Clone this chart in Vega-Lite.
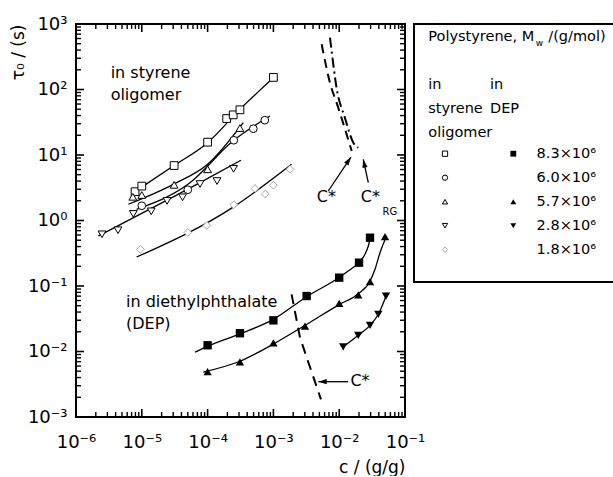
{
  "$schema": "https://vega.github.io/schema/vega-lite/v6.json",
  "padding": {"left": 8, "top": 14, "right": 0, "bottom": 0},
  "spacing": 9,
  "bounds": "flush",
  "config": {
    "font": "DejaVu Sans",
    "view": {"stroke": "black", "strokeWidth": 2},
    "axis": {"domain": false, "grid": false, "labelColor": "black", "titleColor": "black", "titleFontWeight": "normal", "labelFontSize": 18, "titleFontSize": 17}
  },
  "datasets": {
    "xticks": [
      {"c": 1e-5, "kind": "major"}, {"c": 1e-4, "kind": "major"}, {"c": 1e-3, "kind": "major"}, {"c": 1e-2, "kind": "major"},
      {"c": 2e-6, "kind": "minor"}, {"c": 3e-6, "kind": "minor"}, {"c": 4e-6, "kind": "minor"}, {"c": 5e-6, "kind": "minor"}, {"c": 6e-6, "kind": "minor"}, {"c": 7e-6, "kind": "minor"}, {"c": 8e-6, "kind": "minor"}, {"c": 9e-6, "kind": "minor"},
      {"c": 2e-5, "kind": "minor"}, {"c": 3e-5, "kind": "minor"}, {"c": 4e-5, "kind": "minor"}, {"c": 5e-5, "kind": "minor"}, {"c": 6e-5, "kind": "minor"}, {"c": 7e-5, "kind": "minor"}, {"c": 8e-5, "kind": "minor"}, {"c": 9e-5, "kind": "minor"},
      {"c": 2e-4, "kind": "minor"}, {"c": 3e-4, "kind": "minor"}, {"c": 4e-4, "kind": "minor"}, {"c": 5e-4, "kind": "minor"}, {"c": 6e-4, "kind": "minor"}, {"c": 7e-4, "kind": "minor"}, {"c": 8e-4, "kind": "minor"}, {"c": 9e-4, "kind": "minor"},
      {"c": 2e-3, "kind": "minor"}, {"c": 3e-3, "kind": "minor"}, {"c": 4e-3, "kind": "minor"}, {"c": 5e-3, "kind": "minor"}, {"c": 6e-3, "kind": "minor"}, {"c": 7e-3, "kind": "minor"}, {"c": 8e-3, "kind": "minor"}, {"c": 9e-3, "kind": "minor"},
      {"c": 2e-2, "kind": "minor"}, {"c": 3e-2, "kind": "minor"}, {"c": 4e-2, "kind": "minor"}, {"c": 5e-2, "kind": "minor"}, {"c": 6e-2, "kind": "minor"}, {"c": 7e-2, "kind": "minor"}, {"c": 8e-2, "kind": "minor"}, {"c": 9e-2, "kind": "minor"}
    ],
    "yticks": [
      {"tau": 1e-2, "kind": "major"}, {"tau": 1e-1, "kind": "major"}, {"tau": 1, "kind": "major"}, {"tau": 10, "kind": "major"}, {"tau": 100, "kind": "major"},
      {"tau": 2e-3, "kind": "minor"}, {"tau": 3e-3, "kind": "minor"}, {"tau": 4e-3, "kind": "minor"}, {"tau": 5e-3, "kind": "minor"}, {"tau": 6e-3, "kind": "minor"}, {"tau": 7e-3, "kind": "minor"}, {"tau": 8e-3, "kind": "minor"}, {"tau": 9e-3, "kind": "minor"},
      {"tau": 2e-2, "kind": "minor"}, {"tau": 3e-2, "kind": "minor"}, {"tau": 4e-2, "kind": "minor"}, {"tau": 5e-2, "kind": "minor"}, {"tau": 6e-2, "kind": "minor"}, {"tau": 7e-2, "kind": "minor"}, {"tau": 8e-2, "kind": "minor"}, {"tau": 9e-2, "kind": "minor"},
      {"tau": 0.2, "kind": "minor"}, {"tau": 0.3, "kind": "minor"}, {"tau": 0.4, "kind": "minor"}, {"tau": 0.5, "kind": "minor"}, {"tau": 0.6, "kind": "minor"}, {"tau": 0.7, "kind": "minor"}, {"tau": 0.8, "kind": "minor"}, {"tau": 0.9, "kind": "minor"},
      {"tau": 2, "kind": "minor"}, {"tau": 3, "kind": "minor"}, {"tau": 4, "kind": "minor"}, {"tau": 5, "kind": "minor"}, {"tau": 6, "kind": "minor"}, {"tau": 7, "kind": "minor"}, {"tau": 8, "kind": "minor"}, {"tau": 9, "kind": "minor"},
      {"tau": 20, "kind": "minor"}, {"tau": 30, "kind": "minor"}, {"tau": 40, "kind": "minor"}, {"tau": 50, "kind": "minor"}, {"tau": 60, "kind": "minor"}, {"tau": 70, "kind": "minor"}, {"tau": 80, "kind": "minor"}, {"tau": 90, "kind": "minor"},
      {"tau": 200, "kind": "minor"}, {"tau": 300, "kind": "minor"}, {"tau": 400, "kind": "minor"}, {"tau": 500, "kind": "minor"}, {"tau": 600, "kind": "minor"}, {"tau": 700, "kind": "minor"}, {"tau": 800, "kind": "minor"}, {"tau": 900, "kind": "minor"}
    ],
    "pts": [
      {"solvent": "oligomer", "series": "8.3", "c": 7.9e-6, "tau": 2.75},
      {"solvent": "oligomer", "series": "8.3", "c": 1.0e-5, "tau": 3.35},
      {"solvent": "oligomer", "series": "8.3", "c": 3.1e-5, "tau": 6.9},
      {"solvent": "oligomer", "series": "8.3", "c": 1.0e-4, "tau": 15.7},
      {"solvent": "oligomer", "series": "8.3", "c": 1.95e-4, "tau": 36},
      {"solvent": "oligomer", "series": "8.3", "c": 2.45e-4, "tau": 41},
      {"solvent": "oligomer", "series": "8.3", "c": 3.1e-4, "tau": 49},
      {"solvent": "oligomer", "series": "8.3", "c": 1.0e-3, "tau": 153},
      {"solvent": "oligomer", "series": "6.0", "c": 1.0e-5, "tau": 1.68},
      {"solvent": "oligomer", "series": "6.0", "c": 5.0e-5, "tau": 2.95},
      {"solvent": "oligomer", "series": "6.0", "c": 2.5e-4, "tau": 16.8},
      {"solvent": "oligomer", "series": "6.0", "c": 4.95e-4, "tau": 25.2},
      {"solvent": "oligomer", "series": "6.0", "c": 7.4e-4, "tau": 34},
      {"solvent": "oligomer", "series": "5.7", "c": 7.3e-6, "tau": 2.3},
      {"solvent": "oligomer", "series": "5.7", "c": 1.0e-5, "tau": 2.45},
      {"solvent": "oligomer", "series": "5.7", "c": 3.1e-5, "tau": 3.5},
      {"solvent": "oligomer", "series": "5.7", "c": 1.0e-4, "tau": 6.05},
      {"solvent": "oligomer", "series": "5.7", "c": 3.1e-4, "tau": 25.8},
      {"solvent": "oligomer", "series": "2.8", "c": 2.48e-6, "tau": 0.615},
      {"solvent": "oligomer", "series": "2.8", "c": 4.35e-6, "tau": 0.71},
      {"solvent": "oligomer", "series": "2.8", "c": 7.43e-6, "tau": 1.26},
      {"solvent": "oligomer", "series": "2.8", "c": 1.39e-5, "tau": 1.38},
      {"solvent": "oligomer", "series": "2.8", "c": 2.42e-5, "tau": 1.99},
      {"solvent": "oligomer", "series": "2.8", "c": 4.16e-5, "tau": 2.26},
      {"solvent": "oligomer", "series": "2.8", "c": 7.67e-5, "tau": 3.6},
      {"solvent": "oligomer", "series": "2.8", "c": 1.39e-4, "tau": 4.0},
      {"solvent": "oligomer", "series": "2.8", "c": 2.48e-4, "tau": 6.15},
      {"solvent": "oligomer", "series": "1.8", "c": 9.5e-6, "tau": 0.363},
      {"solvent": "oligomer", "series": "1.8", "c": 5.0e-5, "tau": 0.656},
      {"solvent": "oligomer", "series": "1.8", "c": 9.75e-5, "tau": 0.84},
      {"solvent": "oligomer", "series": "1.8", "c": 2.5e-4, "tau": 1.74},
      {"solvent": "oligomer", "series": "1.8", "c": 5.25e-4, "tau": 3.08},
      {"solvent": "oligomer", "series": "1.8", "c": 7.53e-4, "tau": 2.54},
      {"solvent": "oligomer", "series": "1.8", "c": 1.0e-3, "tau": 3.46},
      {"solvent": "oligomer", "series": "1.8", "c": 1.79e-3, "tau": 6.05},
      {"solvent": "DEP", "series": "8.3", "c": 1.0e-4, "tau": 0.01245},
      {"solvent": "DEP", "series": "8.3", "c": 3.1e-4, "tau": 0.019},
      {"solvent": "DEP", "series": "8.3", "c": 1.0e-3, "tau": 0.0299},
      {"solvent": "DEP", "series": "8.3", "c": 3.2e-3, "tau": 0.0703},
      {"solvent": "DEP", "series": "8.3", "c": 1.0e-2, "tau": 0.134},
      {"solvent": "DEP", "series": "8.3", "c": 2.0e-2, "tau": 0.227},
      {"solvent": "DEP", "series": "8.3", "c": 2.94e-2, "tau": 0.546},
      {"solvent": "DEP", "series": "5.7", "c": 1.0e-4, "tau": 0.00492},
      {"solvent": "DEP", "series": "5.7", "c": 3.1e-4, "tau": 0.00692},
      {"solvent": "DEP", "series": "5.7", "c": 1.0e-3, "tau": 0.0136},
      {"solvent": "DEP", "series": "5.7", "c": 3.02e-3, "tau": 0.0245},
      {"solvent": "DEP", "series": "5.7", "c": 1.0e-2, "tau": 0.0545},
      {"solvent": "DEP", "series": "5.7", "c": 1.95e-2, "tau": 0.073},
      {"solvent": "DEP", "series": "5.7", "c": 2.94e-2, "tau": 0.1164},
      {"solvent": "DEP", "series": "5.7", "c": 4.97e-2, "tau": 0.566},
      {"solvent": "DEP", "series": "2.8", "c": 1.15e-2, "tau": 0.0118},
      {"solvent": "DEP", "series": "2.8", "c": 1.95e-2, "tau": 0.0177},
      {"solvent": "DEP", "series": "2.8", "c": 2.94e-2, "tau": 0.0251},
      {"solvent": "DEP", "series": "2.8", "c": 3.93e-2, "tau": 0.037},
      {"solvent": "DEP", "series": "2.8", "c": 5.14e-2, "tau": 0.0703}
    ],
    "fits": [
      {"curve": "o8.3", "c": 8.85e-6, "tau": 2.99},
      {"curve": "o8.3", "c": 3.01e-5, "tau": 6.79},
      {"curve": "o8.3", "c": 1.0e-4, "tau": 15.4},
      {"curve": "o8.3", "c": 3.1e-4, "tau": 49.9},
      {"curve": "o8.3", "c": 1.0e-3, "tau": 151},
      {"curve": "o6.0", "c": 8.34e-6, "tau": 1.48},
      {"curve": "o6.0", "c": 5.09e-5, "tau": 3.6},
      {"curve": "o6.0", "c": 2.52e-4, "tau": 16.9},
      {"curve": "o6.0", "c": 8.87e-4, "tau": 39.4},
      {"curve": "o5.7", "c": 6.24e-6, "tau": 1.77},
      {"curve": "o5.7", "c": 3.02e-5, "tau": 3.57},
      {"curve": "o5.7", "c": 1.0e-4, "tau": 7.2},
      {"curve": "o5.7", "c": 3.49e-4, "tau": 31.1},
      {"curve": "o2.8", "c": 2.18e-6, "tau": 0.579},
      {"curve": "o2.8", "c": 2.38e-5, "tau": 2.03},
      {"curve": "o2.8", "c": 7.67e-5, "tau": 3.78},
      {"curve": "o2.8", "c": 3.21e-4, "tau": 8.3},
      {"curve": "o1.8", "c": 8.34e-6, "tau": 0.277},
      {"curve": "o1.8", "c": 2.52e-4, "tau": 1.63},
      {"curve": "o1.8", "c": 1.89e-3, "tau": 7.21},
      {"curve": "d8.3", "c": 6.46e-5, "tau": 0.0098},
      {"curve": "d8.3", "c": 1.0e-4, "tau": 0.012},
      {"curve": "d8.3", "c": 3.1e-4, "tau": 0.0186},
      {"curve": "d8.3", "c": 1.0e-3, "tau": 0.031},
      {"curve": "d8.3", "c": 3.16e-3, "tau": 0.068},
      {"curve": "d8.3", "c": 1.0e-2, "tau": 0.135},
      {"curve": "d8.3", "c": 1.37e-2, "tau": 0.169},
      {"curve": "d8.3", "c": 2.0e-2, "tau": 0.23},
      {"curve": "d8.3", "c": 2.47e-2, "tau": 0.305},
      {"curve": "d8.3", "c": 2.77e-2, "tau": 0.408},
      {"curve": "d8.3", "c": 2.94e-2, "tau": 0.517},
      {"curve": "d5.7", "c": 8.6e-5, "tau": 0.00486},
      {"curve": "d5.7", "c": 3.1e-4, "tau": 0.0071},
      {"curve": "d5.7", "c": 1.0e-3, "tau": 0.013},
      {"curve": "d5.7", "c": 3.0e-3, "tau": 0.025},
      {"curve": "d5.7", "c": 1.0e-2, "tau": 0.052},
      {"curve": "d5.7", "c": 1.95e-2, "tau": 0.076},
      {"curve": "d5.7", "c": 2.94e-2, "tau": 0.118},
      {"curve": "d5.7", "c": 3.5e-2, "tau": 0.18},
      {"curve": "d5.7", "c": 4.17e-2, "tau": 0.322},
      {"curve": "d5.7", "c": 5.25e-2, "tau": 0.58},
      {"curve": "d2.8", "c": 1.15e-2, "tau": 0.0118},
      {"curve": "d2.8", "c": 1.95e-2, "tau": 0.0177},
      {"curve": "d2.8", "c": 2.94e-2, "tau": 0.0251},
      {"curve": "d2.8", "c": 3.93e-2, "tau": 0.037},
      {"curve": "d2.8", "c": 5.38e-2, "tau": 0.079}
    ],
    "cstar": [
      {"curve": "dep", "c": 1.89e-3, "tau": 0.0746},
      {"curve": "dep", "c": 2.54e-3, "tau": 0.0162},
      {"curve": "dep", "c": 5.28e-3, "tau": 0.00186},
      {"curve": "cstar", "c": 5.41e-3, "tau": 490},
      {"curve": "cstar", "c": 7.24e-3, "tau": 127},
      {"curve": "cstar", "c": 9.68e-3, "tau": 52.7},
      {"curve": "cstar", "c": 1.55e-2, "tau": 11.5},
      {"curve": "crg", "c": 7.24e-3, "tau": 617},
      {"curve": "crg", "c": 7.67e-3, "tau": 387},
      {"curve": "crg", "c": 9.12e-3, "tau": 106},
      {"curve": "crg", "c": 1.22e-2, "tau": 37.1},
      {"curve": "crg", "c": 1.64e-2, "tau": 15.4},
      {"curve": "crg", "c": 1.95e-2, "tau": 12.9}
    ],
    "arrows": [
      {"arrow": "a1", "end": "tail", "c": 6.82e-3, "tau": 2.82},
      {"arrow": "a1", "end": "tip", "c": 1.51e-2, "tau": 9.31},
      {"arrow": "a2", "end": "tail", "c": 2.77e-2, "tau": 3.78},
      {"arrow": "a2", "end": "tip", "c": 2.32e-2, "tau": 8.59},
      {"arrow": "a3", "end": "tail", "c": 1.37e-2, "tau": 0.00346},
      {"arrow": "a3", "end": "tip", "c": 4.82e-3, "tau": 0.00346}
    ],
    "notes": [
      {"kind": "left", "text": "in styrene", "c": 3.36e-6, "tau": 180},
      {"kind": "left", "text": "oligomer", "c": 3.36e-6, "tau": 81.5},
      {"kind": "left", "text": "in diethylphthalate", "c": 5.75e-6, "tau": 0.057},
      {"kind": "left", "text": "(DEP)", "c": 5.75e-6, "tau": 0.026},
      {"kind": "center", "text": "C*", "c": 6.4e-3, "tau": 2.28},
      {"kind": "center", "text": "C*", "c": 2.97e-2, "tau": 2.28},
      {"kind": "center", "text": "C*", "c": 2.07e-2, "tau": 0.00355},
      {"kind": "sub", "text": "RG", "c": 5.87e-2, "tau": 1.35}
    ],
    "legtitle": [
      {"col": "olig", "row": "t", "part": "a", "text": "Polystyrene, M"},
      {"col": "olig", "row": "t", "part": "b", "text": "w"},
      {"col": "olig", "row": "t", "part": "c", "text": "/(g/mol)"}
    ],
    "leghead": [
      {"col": "olig", "row": "in", "text": "in"},
      {"col": "dep", "row": "in", "text": "in"},
      {"col": "olig", "row": "sty", "text": "styrene"},
      {"col": "dep", "row": "sty", "text": "DEP"},
      {"col": "olig", "row": "olig", "text": "oligomer"}
    ],
    "legsym": [
      {"col": "olig", "row": "r1", "series": "8.3"},
      {"col": "olig", "row": "r2", "series": "6.0"},
      {"col": "olig", "row": "r3", "series": "5.7"},
      {"col": "olig", "row": "r4", "series": "2.8"},
      {"col": "olig", "row": "r5", "series": "1.8"},
      {"col": "dep", "row": "r1", "series": "8.3"},
      {"col": "dep", "row": "r3", "series": "5.7"},
      {"col": "dep", "row": "r4", "series": "2.8"}
    ],
    "leglab": [
      {"col": "mw", "row": "r1", "text": "8.3×10⁶"},
      {"col": "mw", "row": "r2", "text": "6.0×10⁶"},
      {"col": "mw", "row": "r3", "text": "5.7×10⁶"},
      {"col": "mw", "row": "r4", "text": "2.8×10⁶"},
      {"col": "mw", "row": "r5", "text": "1.8×10⁶"}
    ]
  },
  "hconcat": [
    {
      "width": 329,
      "height": 393,
      "layer": [
        {
          "data": {"name": "fits"},
          "mark": {"type": "line", "color": "black", "strokeWidth": 1.3, "interpolate": "monotone"},
          "encoding": {
            "x": {"field": "c", "type": "quantitative", "scale": {"type": "log", "domain": [1e-6, 0.1]},
              "axis": {"orient": "bottom", "values": [1e-6, 1e-5, 1e-4, 1e-3, 1e-2, 1e-1], "ticks": false, "labelExpr": "'10' + (datum.value < 1 ? '⁻' : '') + ['⁰','¹','²','³','⁴','⁵','⁶','⁷','⁸','⁹'][round(abs(log(datum.value)/LN10))]", "labelPadding": 16, "labelFlush": false, "labelOverlap": false, "title": "c / (g/g)", "titleAnchor": "end", "titlePadding": 8}},
            "y": {"field": "tau", "type": "quantitative", "scale": {"type": "log", "domain": [0.001, 1000]},
              "axis": {"orient": "left", "values": [1e-3, 1e-2, 1e-1, 1, 10, 100, 1000], "ticks": false, "labelExpr": "'10' + (datum.value < 1 ? '⁻' : '') + ['⁰','¹','²','³','⁴','⁵','⁶','⁷','⁸','⁹'][round(abs(log(datum.value)/LN10))]", "labelPadding": 9, "labelFlush": false, "labelOverlap": false, "title": "τ₀ / (s)", "titleAnchor": "end", "titlePadding": 0}},
            "detail": {"field": "curve"}
          }
        },
        {
          "data": {"name": "cstar"},
          "transform": [{"filter": "datum.curve == 'dep'"}],
          "mark": {"type": "line", "color": "black", "strokeWidth": 2, "strokeDash": [10, 7]},
          "encoding": {
            "x": {"field": "c", "type": "quantitative", "scale": {"type": "log", "domain": [1e-6, 0.1]}},
            "y": {"field": "tau", "type": "quantitative", "scale": {"type": "log", "domain": [0.001, 1000]}}
          }
        },
        {
          "data": {"name": "cstar"},
          "transform": [{"filter": "datum.curve == 'cstar'"}],
          "mark": {"type": "line", "color": "black", "strokeWidth": 2, "strokeDash": [9, 6], "interpolate": "monotone"},
          "encoding": {
            "x": {"field": "c", "type": "quantitative", "scale": {"type": "log", "domain": [1e-6, 0.1]}},
            "y": {"field": "tau", "type": "quantitative", "scale": {"type": "log", "domain": [0.001, 1000]}}
          }
        },
        {
          "data": {"name": "cstar"},
          "transform": [{"filter": "datum.curve == 'crg'"}],
          "mark": {"type": "line", "color": "black", "strokeWidth": 2, "strokeDash": [10, 4, 2, 4], "interpolate": "monotone"},
          "encoding": {
            "x": {"field": "c", "type": "quantitative", "scale": {"type": "log", "domain": [1e-6, 0.1]}},
            "y": {"field": "tau", "type": "quantitative", "scale": {"type": "log", "domain": [0.001, 1000]}}
          }
        },
        {
          "data": {"name": "arrows"},
          "mark": {"type": "line", "color": "black", "strokeWidth": 1.3},
          "encoding": {
            "x": {"field": "c", "type": "quantitative", "scale": {"type": "log", "domain": [1e-6, 0.1]}},
            "y": {"field": "tau", "type": "quantitative", "scale": {"type": "log", "domain": [0.001, 1000]}},
            "detail": {"field": "arrow"}
          }
        },
        {
          "data": {"name": "arrows"},
          "transform": [{"filter": "datum.end == 'tip' && datum.arrow == 'a1'"}],
          "mark": {"type": "point", "filled": true, "color": "black", "opacity": 1, "shape": "M0,0L0.5,1.6L-0.5,1.6Z", "size": 110, "angle": 34},
          "encoding": {
            "x": {"field": "c", "type": "quantitative", "scale": {"type": "log", "domain": [1e-6, 0.1]}},
            "y": {"field": "tau", "type": "quantitative", "scale": {"type": "log", "domain": [0.001, 1000]}}
          }
        },
        {
          "data": {"name": "arrows"},
          "transform": [{"filter": "datum.end == 'tip' && datum.arrow == 'a2'"}],
          "mark": {"type": "point", "filled": true, "color": "black", "opacity": 1, "shape": "M0,0L0.5,1.6L-0.5,1.6Z", "size": 110, "angle": 348},
          "encoding": {
            "x": {"field": "c", "type": "quantitative", "scale": {"type": "log", "domain": [1e-6, 0.1]}},
            "y": {"field": "tau", "type": "quantitative", "scale": {"type": "log", "domain": [0.001, 1000]}}
          }
        },
        {
          "data": {"name": "arrows"},
          "transform": [{"filter": "datum.end == 'tip' && datum.arrow == 'a3'"}],
          "mark": {"type": "point", "filled": true, "color": "black", "opacity": 1, "shape": "M0,0L0.5,1.6L-0.5,1.6Z", "size": 110, "angle": 270},
          "encoding": {
            "x": {"field": "c", "type": "quantitative", "scale": {"type": "log", "domain": [1e-6, 0.1]}},
            "y": {"field": "tau", "type": "quantitative", "scale": {"type": "log", "domain": [0.001, 1000]}}
          }
        },
        {
          "data": {"name": "pts"},
          "transform": [{"filter": "datum.solvent == 'oligomer'"}],
          "mark": {"type": "point", "filled": true, "fill": "white", "strokeWidth": 1, "size": 60, "opacity": 1},
          "encoding": {
            "x": {"field": "c", "type": "quantitative", "scale": {"type": "log", "domain": [1e-6, 0.1]}},
            "y": {"field": "tau", "type": "quantitative", "scale": {"type": "log", "domain": [0.001, 1000]}},
            "shape": {"field": "series", "type": "nominal", "scale": {"domain": ["8.3", "6.0", "5.7", "2.8", "1.8"], "range": ["square", "circle", "triangle-up", "triangle-down", "diamond"]}, "legend": null},
            "stroke": {"field": "series", "type": "nominal", "scale": {"domain": ["8.3", "6.0", "5.7", "2.8", "1.8"], "range": ["black", "black", "black", "black", "#a8a8a8"]}, "legend": null}
          }
        },
        {
          "data": {"name": "pts"},
          "transform": [{"filter": "datum.solvent == 'DEP'"}],
          "mark": {"type": "point", "filled": true, "color": "black", "size": 70, "opacity": 1},
          "encoding": {
            "x": {"field": "c", "type": "quantitative", "scale": {"type": "log", "domain": [1e-6, 0.1]}},
            "y": {"field": "tau", "type": "quantitative", "scale": {"type": "log", "domain": [0.001, 1000]}},
            "shape": {"field": "series", "type": "nominal", "scale": {"domain": ["8.3", "6.0", "5.7", "2.8", "1.8"], "range": ["square", "circle", "triangle-up", "triangle-down", "diamond"]}, "legend": null}
          }
        },
        {
          "data": {"name": "notes"},
          "transform": [{"filter": "datum.kind == 'left'"}],
          "mark": {"type": "text", "align": "left", "baseline": "middle", "fontSize": 16, "color": "black"},
          "encoding": {
            "x": {"field": "c", "type": "quantitative", "scale": {"type": "log", "domain": [1e-6, 0.1]}},
            "y": {"field": "tau", "type": "quantitative", "scale": {"type": "log", "domain": [0.001, 1000]}},
            "text": {"field": "text"}
          }
        },
        {
          "data": {"name": "notes"},
          "transform": [{"filter": "datum.kind == 'center'"}],
          "mark": {"type": "text", "align": "center", "baseline": "middle", "fontSize": 16, "color": "black"},
          "encoding": {
            "x": {"field": "c", "type": "quantitative", "scale": {"type": "log", "domain": [1e-6, 0.1]}},
            "y": {"field": "tau", "type": "quantitative", "scale": {"type": "log", "domain": [0.001, 1000]}},
            "text": {"field": "text"}
          }
        },
        {
          "data": {"name": "notes"},
          "transform": [{"filter": "datum.kind == 'sub'"}],
          "mark": {"type": "text", "align": "center", "baseline": "middle", "fontSize": 10, "color": "black"},
          "encoding": {
            "x": {"field": "c", "type": "quantitative", "scale": {"type": "log", "domain": [1e-6, 0.1]}},
            "y": {"field": "tau", "type": "quantitative", "scale": {"type": "log", "domain": [0.001, 1000]}},
            "text": {"field": "text"}
          }
        },
        {
          "data": {"name": "xticks"},
          "transform": [{"filter": "datum.kind == 'major'"}],
          "mark": {"type": "point", "shape": "M0,0L0,-1", "size": 256, "filled": false, "color": "black", "strokeWidth": 1.6, "opacity": 1},
          "encoding": {
            "x": {"field": "c", "type": "quantitative", "scale": {"type": "log", "domain": [1e-6, 0.1]}},
            "y": {"datum": 0.001, "type": "quantitative", "scale": {"type": "log", "domain": [0.001, 1000]}}
          }
        },
        {
          "data": {"name": "xticks"},
          "transform": [{"filter": "datum.kind == 'minor'"}],
          "mark": {"type": "point", "shape": "M0,0L0,-1", "size": 100, "filled": false, "color": "black", "strokeWidth": 1.4, "opacity": 1},
          "encoding": {
            "x": {"field": "c", "type": "quantitative", "scale": {"type": "log", "domain": [1e-6, 0.1]}},
            "y": {"datum": 0.001, "type": "quantitative", "scale": {"type": "log", "domain": [0.001, 1000]}}
          }
        },
        {
          "data": {"name": "xticks"},
          "transform": [{"filter": "datum.kind == 'major'"}],
          "mark": {"type": "point", "shape": "M0,0L0,1", "size": 256, "filled": false, "color": "black", "strokeWidth": 1.6, "opacity": 1},
          "encoding": {
            "x": {"field": "c", "type": "quantitative", "scale": {"type": "log", "domain": [1e-6, 0.1]}},
            "y": {"datum": 1000, "type": "quantitative", "scale": {"type": "log", "domain": [0.001, 1000]}}
          }
        },
        {
          "data": {"name": "xticks"},
          "transform": [{"filter": "datum.kind == 'minor'"}],
          "mark": {"type": "point", "shape": "M0,0L0,1", "size": 100, "filled": false, "color": "black", "strokeWidth": 1.4, "opacity": 1},
          "encoding": {
            "x": {"field": "c", "type": "quantitative", "scale": {"type": "log", "domain": [1e-6, 0.1]}},
            "y": {"datum": 1000, "type": "quantitative", "scale": {"type": "log", "domain": [0.001, 1000]}}
          }
        },
        {
          "data": {"name": "yticks"},
          "transform": [{"filter": "datum.kind == 'major'"}],
          "mark": {"type": "point", "shape": "M0,0L1,0", "size": 256, "filled": false, "color": "black", "strokeWidth": 1.6, "opacity": 1},
          "encoding": {
            "y": {"field": "tau", "type": "quantitative", "scale": {"type": "log", "domain": [0.001, 1000]}},
            "x": {"datum": 1e-6, "type": "quantitative", "scale": {"type": "log", "domain": [1e-6, 0.1]}}
          }
        },
        {
          "data": {"name": "yticks"},
          "transform": [{"filter": "datum.kind == 'minor'"}],
          "mark": {"type": "point", "shape": "M0,0L1,0", "size": 100, "filled": false, "color": "black", "strokeWidth": 1.4, "opacity": 1},
          "encoding": {
            "y": {"field": "tau", "type": "quantitative", "scale": {"type": "log", "domain": [0.001, 1000]}},
            "x": {"datum": 1e-6, "type": "quantitative", "scale": {"type": "log", "domain": [1e-6, 0.1]}}
          }
        },
        {
          "data": {"name": "yticks"},
          "transform": [{"filter": "datum.kind == 'major'"}],
          "mark": {"type": "point", "shape": "M0,0L-1,0", "size": 256, "filled": false, "color": "black", "strokeWidth": 1.6, "opacity": 1},
          "encoding": {
            "y": {"field": "tau", "type": "quantitative", "scale": {"type": "log", "domain": [0.001, 1000]}},
            "x": {"datum": 0.1, "type": "quantitative", "scale": {"type": "log", "domain": [1e-6, 0.1]}}
          }
        },
        {
          "data": {"name": "yticks"},
          "transform": [{"filter": "datum.kind == 'minor'"}],
          "mark": {"type": "point", "shape": "M0,0L-1,0", "size": 100, "filled": false, "color": "black", "strokeWidth": 1.4, "opacity": 1},
          "encoding": {
            "y": {"field": "tau", "type": "quantitative", "scale": {"type": "log", "domain": [0.001, 1000]}},
            "x": {"datum": 0.1, "type": "quantitative", "scale": {"type": "log", "domain": [1e-6, 0.1]}}
          }
        }
      ]
    },
    {
      "width": 200,
      "height": 258,
      "resolve": {"scale": {"x": "independent"}},
      "layer": [
        {
          "data": {"name": "legtitle"},
          "transform": [{"filter": "datum.part == 'a'"}],
          "mark": {"type": "text", "align": "left", "baseline": "middle", "fontSize": 14.5, "dy": 3, "color": "black"},
          "encoding": {
            "x": {"field": "col", "type": "nominal", "scale": {"type": "point", "padding": 0, "domain": ["olig", "dep"], "range": [14.3, 76]}, "axis": null},
            "y": {"field": "row", "type": "nominal", "scale": {"type": "point", "padding": 0, "domain": ["t", "b", "in", "sty", "olig", "r1", "r2", "r3", "r4", "r5"], "range": [9.7, 225.7]}, "axis": null},
            "text": {"field": "text"}
          }
        },
        {
          "data": {"name": "legtitle"},
          "transform": [{"filter": "datum.part == 'b'"}],
          "mark": {"type": "text", "align": "left", "baseline": "middle", "fontSize": 9, "dx": 107.5, "dy": 9, "color": "black"},
          "encoding": {
            "x": {"field": "col", "type": "nominal", "scale": {"type": "point", "padding": 0, "domain": ["olig", "dep"], "range": [14.3, 76]}, "axis": null},
            "y": {"field": "row", "type": "nominal", "scale": {"type": "point", "padding": 0, "domain": ["t", "b", "in", "sty", "olig", "r1", "r2", "r3", "r4", "r5"], "range": [9.7, 225.7]}, "axis": null},
            "text": {"field": "text"}
          }
        },
        {
          "data": {"name": "legtitle"},
          "transform": [{"filter": "datum.part == 'c'"}],
          "mark": {"type": "text", "align": "left", "baseline": "middle", "fontSize": 14.5, "dx": 120, "dy": 3, "color": "black"},
          "encoding": {
            "x": {"field": "col", "type": "nominal", "scale": {"type": "point", "padding": 0, "domain": ["olig", "dep"], "range": [14.3, 76]}, "axis": null},
            "y": {"field": "row", "type": "nominal", "scale": {"type": "point", "padding": 0, "domain": ["t", "b", "in", "sty", "olig", "r1", "r2", "r3", "r4", "r5"], "range": [9.7, 225.7]}, "axis": null},
            "text": {"field": "text"}
          }
        },
        {
          "data": {"name": "leghead"},
          "mark": {"type": "text", "align": "left", "baseline": "middle", "fontSize": 14.5, "dy": 3, "color": "black"},
          "encoding": {
            "x": {"field": "col", "type": "nominal", "scale": {"type": "point", "padding": 0, "domain": ["olig", "dep"], "range": [14.3, 76]}, "axis": null},
            "y": {"field": "row", "type": "nominal", "scale": {"type": "point", "padding": 0, "domain": ["t", "b", "in", "sty", "olig", "r1", "r2", "r3", "r4", "r5"], "range": [9.7, 225.7]}, "axis": null},
            "text": {"field": "text"}
          }
        },
        {
          "data": {"name": "legsym"},
          "transform": [{"filter": "datum.col == 'olig'"}],
          "mark": {"type": "point", "filled": true, "fill": "white", "strokeWidth": 1, "size": 28, "opacity": 1},
          "encoding": {
            "x": {"field": "col", "type": "nominal", "scale": {"type": "point", "padding": 0, "domain": ["olig", "dep", "mw"], "range": [31, 167.6]}, "axis": null},
            "y": {"field": "row", "type": "nominal", "scale": {"type": "point", "padding": 0, "domain": ["t", "b", "in", "sty", "olig", "r1", "r2", "r3", "r4", "r5"], "range": [9.7, 225.7]}, "axis": null},
            "shape": {"field": "series", "type": "nominal", "scale": {"domain": ["8.3", "6.0", "5.7", "2.8", "1.8"], "range": ["square", "circle", "triangle-up", "triangle-down", "diamond"]}, "legend": null},
            "stroke": {"field": "series", "type": "nominal", "scale": {"domain": ["8.3", "6.0", "5.7", "2.8", "1.8"], "range": ["black", "black", "black", "black", "#a8a8a8"]}, "legend": null}
          }
        },
        {
          "data": {"name": "legsym"},
          "transform": [{"filter": "datum.col == 'dep'"}],
          "mark": {"type": "point", "filled": true, "color": "black", "size": 34, "opacity": 1},
          "encoding": {
            "x": {"field": "col", "type": "nominal", "scale": {"type": "point", "padding": 0, "domain": ["olig", "dep", "mw"], "range": [31, 167.6]}, "axis": null},
            "y": {"field": "row", "type": "nominal", "scale": {"type": "point", "padding": 0, "domain": ["t", "b", "in", "sty", "olig", "r1", "r2", "r3", "r4", "r5"], "range": [9.7, 225.7]}, "axis": null},
            "shape": {"field": "series", "type": "nominal", "scale": {"domain": ["8.3", "6.0", "5.7", "2.8", "1.8"], "range": ["square", "circle", "triangle-up", "triangle-down", "diamond"]}, "legend": null}
          }
        },
        {
          "data": {"name": "leglab"},
          "mark": {"type": "text", "align": "left", "baseline": "middle", "fontSize": 14.5, "dx": -45, "color": "black"},
          "encoding": {
            "x": {"field": "col", "type": "nominal", "scale": {"type": "point", "padding": 0, "domain": ["olig", "dep", "mw"], "range": [31, 167.6]}, "axis": null},
            "y": {"field": "row", "type": "nominal", "scale": {"type": "point", "padding": 0, "domain": ["t", "b", "in", "sty", "olig", "r1", "r2", "r3", "r4", "r5"], "range": [9.7, 225.7]}, "axis": null},
            "text": {"field": "text"}
          }
        }
      ]
    }
  ]
}
